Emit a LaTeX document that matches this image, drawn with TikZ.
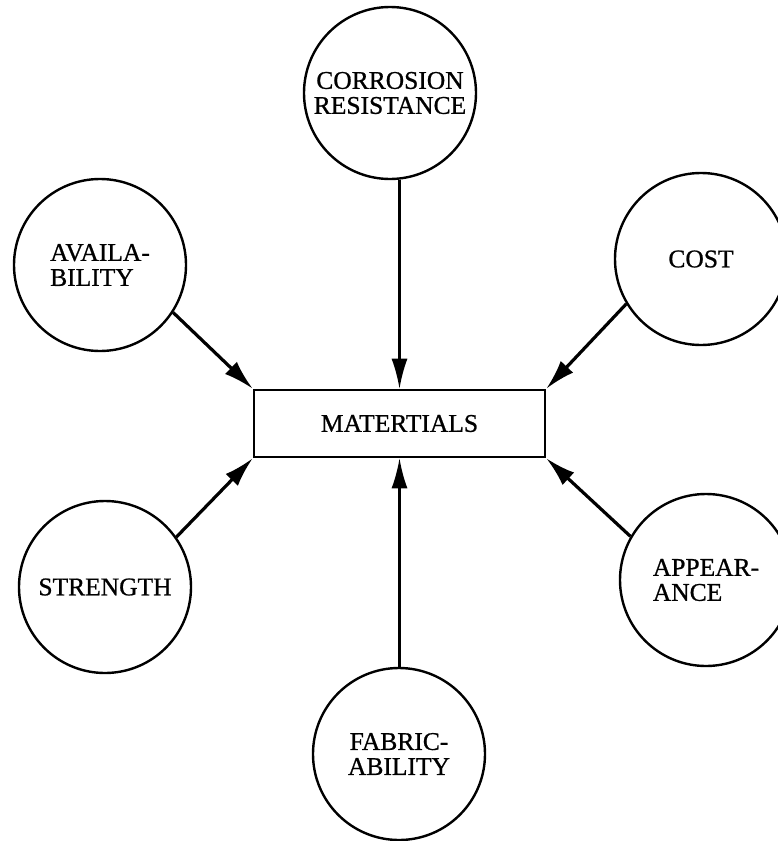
\documentclass[tikz,border=0pt]{standalone}
\usepackage{fontspec}
\setmainfont{Liberation Serif}[FakeBold=0.8]
\usetikzlibrary{arrows.meta}
\begin{document}
\begin{tikzpicture}[x=1pt,y=-1pt,
  bubble/.style={circle,draw,line width=2.4pt,minimum size=172pt,inner sep=0pt,
    font=\fontsize{25.5}{25}\selectfont,align=center},
  box/.style={draw,line width=2.6pt,minimum width=291pt,minimum height=67pt,
    inner sep=0pt,font=\fontsize{25.5}{25}\selectfont},
  feed/.style={-{Latex[length=30pt,width=17pt]},line width=3.2pt},
  vfeed/.style={-{Latex[length=30pt,width=16pt]},line width=2.2pt}]
\useasboundingbox (0,0) rectangle (778,841);
\clip (0,0) rectangle (778,841);
\node[box] (mat) at (399.5,423.5) {MATERTIALS};
\node[bubble] (corr) at (390,93) {CORROSION\\RESISTANCE};
\node[bubble,align=left] (avail) at (100,265) {AVAILA-\\BILITY};
\node[bubble] (cost) at (701,259) {COST};
\node[bubble] (str) at (105,587) {STRENGTH};
\node[bubble,align=left] (app) at (706,580) {APPEAR-\\ANCE};
\node[bubble] (fab) at (399,754) {FABRIC-\\ABILITY};
\draw[vfeed] (mat.north |- corr.south) -- (mat.north);
\draw[vfeed] (mat.south |- fab.north) -- (mat.south);
\draw[feed] (avail.-33) -- (mat.north west);
\draw[feed] (cost.-149) -- (mat.north east);
\draw[feed] (str.35) -- (mat.south west);
\draw[feed] (app.150) -- (mat.south east);
\end{tikzpicture}
\end{document}
